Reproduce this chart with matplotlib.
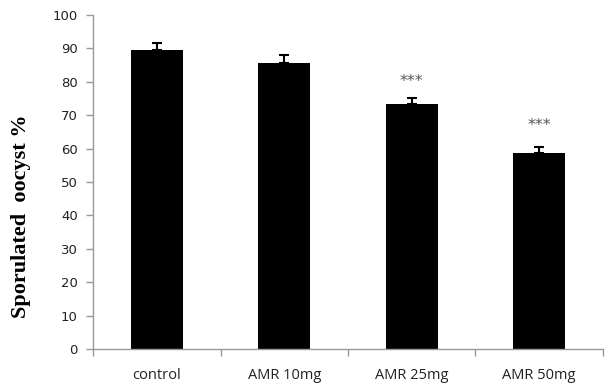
import matplotlib
matplotlib.use("Agg")
import matplotlib.pyplot as plt
import numpy as np

categories = ["control", "AMR 10mg", "AMR 25mg", "AMR 50mg"]
values = [89.5, 85.5, 73.4, 58.7]
errors = [2.2, 2.4, 1.7, 1.7]
stars = ["", "", "***", "***"]
star_levels = [None, None, 80.0, 67.0]
yticks = [0, 10, 20, 30, 40, 50, 60, 70, 80, 90, 100]

fig = plt.figure(figsize=(6.06, 3.84), dpi=100)
ax = fig.add_axes([0.1535, 0.0911, 0.8415, 0.8700])

x = np.arange(len(categories))
ax.bar(x, values, width=0.41, color="black", zorder=2)
ax.errorbar(x, values, yerr=[np.zeros(len(values)), errors], fmt="none",
            ecolor="black", elinewidth=1.5, capsize=3.3, capthick=1.5, zorder=3)
for xi, s, lv in zip(x, stars, star_levels):
    if s:
        ax.text(xi, lv, s, ha="center", va="center", fontsize=11.5,
                color="#555555", family="DejaVu Sans")

ax.set_xlim(-0.5, 3.5)
ax.set_ylim(0, 100)
ax.set_yticks(yticks)
ax.set_yticklabels([str(t) for t in yticks], fontsize=9.5, color="#222222", family="DejaVu Sans")
ax.set_xticks(x)
ax.set_xticklabels(categories, fontsize=10.5, color="#222222", family="Open Sans")
ax.set_xticks(np.arange(-0.5, 4.0, 1.0), minor=True)
ax.tick_params(axis="x", which="major", length=0, pad=13.5)
ax.tick_params(axis="x", which="minor", length=5, width=1, color="#999999", direction="out")
ax.tick_params(axis="y", length=5, width=1, color="#999999", direction="out", pad=6)

for sp in ["top", "right"]:
    ax.spines[sp].set_visible(False)
for sp in ["left", "bottom"]:
    ax.spines[sp].set_color("#999999")
    ax.spines[sp].set_linewidth(1)

ax.set_ylabel("Sporulated  oocyst %", fontsize=16, fontweight="bold",
              family="Liberation Serif")
ax.yaxis.set_label_coords(-0.122, 0.397)

fig.savefig("out.png", dpi=100)
